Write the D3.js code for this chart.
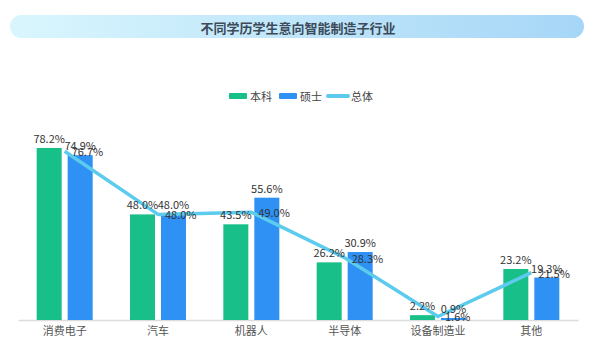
<!DOCTYPE html>
<html lang="zh">
<head>
  <meta charset="UTF-8">
  <title>不同学历学生意向智能制造子行业</title>
  <script src="https://d3js.org/d3.v7.min.js"></script>
  <style>
    body { margin: 0; background: #fff; font-family: "Noto Sans CJK SC", "Noto Sans", sans-serif; }
    svg text { fill: #333; }
  </style>
</head>
<body>
  <div id="chart"></div>
  <script>
    // 数据
    const categories = ["消费电子", "汽车", "机器人", "半导体", "设备制造业", "其他"];
    const benke = [78.2, 48.0, 43.5, 26.2, 2.2, 23.2];   // 本科
    const shuoshi = [74.9, 48.0, 55.6, 30.9, 0.9, 19.3]; // 硕士
    const zongti = [76.7, 48.0, 49.0, 28.3, 1.6, 21.5];  // 总体
    const seriesNames = ["本科", "硕士", "总体"];

    const W = 600, H = 351;
    const colGreen = "#19bf88", colBlue = "#2e91f3", colLine = "#5ccbee";

    const svg = d3.select("#chart").append("svg")
      .attr("width", W).attr("height", H);

    // 标题横幅
    const defs = svg.append("defs");
    const grad = defs.append("linearGradient").attr("id", "bannerGrad");
    grad.append("stop").attr("offset", "0%").attr("stop-color", "#d9f6fd");
    grad.append("stop").attr("offset", "100%").attr("stop-color", "#a6d6f7");
    svg.append("rect")
      .attr("x", 10).attr("y", 15).attr("width", 574).attr("height", 23)
      .attr("rx", 11.5).attr("fill", "url(#bannerGrad)");
    svg.append("text")
      .attr("x", 298).attr("y", 27)
      .attr("text-anchor", "middle").attr("dominant-baseline", "central")
      .style("font-size", "13px").style("font-weight", "bold")
      .style("fill", "#3d4b5a")
      .text("不同学历学生意向智能制造子行业");

    // 比例尺
    const x = d3.scaleBand().domain(categories).range([18, 578]);
    const y = d3.scaleLinear().domain([0, 100]).range([320, 100]);
    const barW = 25, gap = 3;

    // 坐标轴
    const xAxis = svg.append("g")
      .attr("transform", "translate(0,320)")
      .call(d3.axisBottom(x).tickSize(0).tickPadding(7));
    xAxis.select(".domain").attr("stroke", "#dcdcdc").attr("stroke-width", 1.5);
    xAxis.selectAll("text")
      .style("font-size", "11px").style("fill", "#555")
      .style("font-family", "\"Noto Sans CJK SC\", sans-serif");

    const cx = d => x(d) + x.bandwidth() / 2;

    // 柱子
    const groups = [
      { vals: benke, color: colGreen, off: -gap - barW },
      { vals: shuoshi, color: colBlue, off: gap }
    ];
    groups.forEach(g => {
      svg.append("g").selectAll("rect")
        .data(categories).enter().append("rect")
        .attr("x", d => cx(d) + g.off)
        .attr("y", (d, i) => y(g.vals[i]))
        .attr("width", barW)
        .attr("height", (d, i) => y(0) - y(g.vals[i]))
        .attr("fill", g.color);
    });

    // 折线
    svg.append("path")
      .datum(categories)
      .attr("fill", "none")
      .attr("stroke", colLine)
      .attr("stroke-width", 3.5)
      .attr("stroke-linejoin", "round")
      .attr("d", d3.line().x(d => cx(d)).y((d, i) => y(zongti[i])));

    // 数据标签
    groups.forEach(g => {
      svg.append("g").selectAll("text")
        .data(categories).enter().append("text")
        .attr("x", d => cx(d) + g.off + barW / 2)
        .attr("y", (d, i) => y(g.vals[i]) - 5)
        .attr("text-anchor", "middle")
        .style("font-size", "11px")
        .text((d, i) => g.vals[i].toFixed(1) + "%");
    });
    svg.append("g").selectAll("text")
      .data(categories).enter().append("text")
      .attr("x", d => cx(d) + 7)
      .attr("y", (d, i) => y(zongti[i]))
      .attr("dominant-baseline", "central")
      .style("font-size", "11px")
      .text((d, i) => zongti[i].toFixed(1) + "%");

    // 图例
    const legend = svg.append("g").attr("transform", "translate(229,96)");
    const legendX = [0, 50, 99];
    seriesNames.forEach((name, i) => {
      const lg = legend.append("g").attr("transform", `translate(${legendX[i]},0)`);
      if (i < 2) {
        lg.append("rect").attr("x", 0).attr("y", -3).attr("width", 18).attr("height", 6)
          .attr("rx", 1).attr("fill", i === 0 ? colGreen : colBlue);
      } else {
        lg.append("line").attr("x1", 0).attr("x2", 20).attr("y1", 0).attr("y2", 0)
          .attr("stroke", colLine).attr("stroke-width", 4).attr("stroke-linecap", "round");
      }
      lg.append("text").attr("x", i < 2 ? 21 : 23).attr("y", 0)
        .attr("dominant-baseline", "central")
        .style("font-size", "11px").style("fill", "#444")
        .text(name);
    });
  </script>
</body>
</html>
